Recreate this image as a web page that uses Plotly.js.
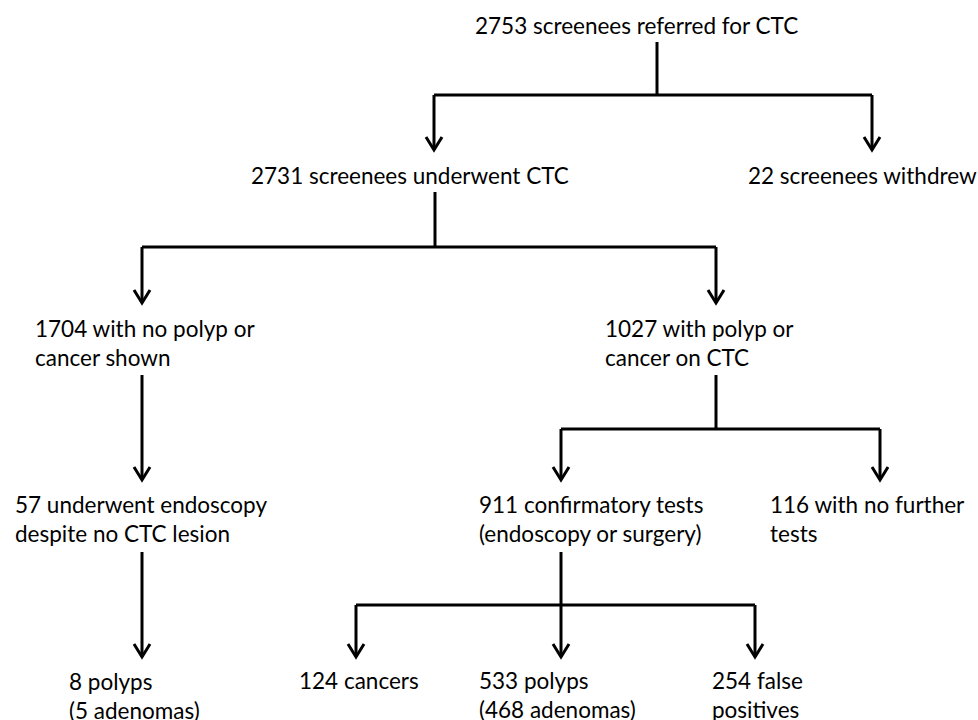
<!DOCTYPE html>
<html>
<head>
<meta charset="utf-8">
<script src="https://cdn.plot.ly/plotly-3.0.1.min.js"></script>
<style>html,body{margin:0;padding:0;background:#fff;}#chart{width:978px;height:720px;}</style>
</head>
<body>
<div id="chart"></div>
<script>
// Node texts (each node: list of lines), left x and baseline of first line (pixel space)
const nodeLines = [
  ["2753 screenees referred for CTC"],
  ["2731 screenees underwent CTC"],
  ["22 screenees withdrew"],
  ["1704 with no polyp or", "cancer shown"],
  ["1027 with polyp or", "cancer on CTC"],
  ["57 underwent endoscopy", "despite no CTC lesion"],
  ["911 confirmatory tests", "(endoscopy or surgery)"],
  ["116 with no further", "tests"],
  ["8 polyps", "(5 adenomas)"],
  ["124 cancers"],
  ["533 polyps", "(468 adenomas)"],
  ["254 false", "positives"]
];
const nodeLeft = [473, 249, 746, 33, 603, 13, 477, 768, 67, 297, 477, 710];
const nodeBase = [32, 182, 182, 335, 335, 511, 511, 511, 688, 687, 687, 687];

// Split connectors: stem from parent down to a horizontal bar, then arrows down to children
const stemX    = [657, 435, 716, 561];
const stemTop  = [42, 192, 375, 552];
const barY     = [95, 247, 429, 605];
const branchX  = [[434, 872], [142, 716], [561, 880], [356, 561, 755]];
const branchTip = [150, 303, 480, 657];

// Straight arrows: x, top, tip
const straightX   = [142, 142];
const straightTop = [375, 552];
const straightTip = [480, 657];

const LINE_SPACING = 29;
const traces = [];
const lineStyle = {color: '#000', width: 3};
function seg(xs, ys) {
  traces.push({x: xs, y: ys, mode: 'lines', line: lineStyle, hoverinfo: 'skip', showlegend: false, type: 'scatter'});
}
function head(x, tip) {
  traces.push({x: [x - 8, x, x + 8], y: [tip - 13, tip, tip - 13], mode: 'lines',
    line: {color: '#000', width: 3, shape: 'linear'}, hoverinfo: 'skip', showlegend: false, type: 'scatter'});
}
for (let i = 0; i < stemX.length; i++) {
  seg([stemX[i], stemX[i]], [stemTop[i], barY[i]]);
  const bx = branchX[i];
  seg([Math.min(...bx), Math.max(...bx)], [barY[i], barY[i]]);
  bx.forEach(x => { seg([x, x], [barY[i], branchTip[i] - 1]); head(x, branchTip[i]); });
}
for (let i = 0; i < straightX.length; i++) {
  seg([straightX[i], straightX[i]], [straightTop[i], straightTip[i] - 1]);
  head(straightX[i], straightTip[i]);
}

const annotations = [];
nodeLines.forEach((lines, i) => {
  lines.forEach((t, j) => {
    annotations.push({
      x: nodeLeft[i], y: nodeBase[i] + j * LINE_SPACING - 7,
      xref: 'x', yref: 'y', text: t, showarrow: false,
      xanchor: 'left', yanchor: 'middle', align: 'left',
      font: {family: 'Lato, "Open Sans", sans-serif', size: 22.5, color: '#000'}
    });
  });
});

const layout = {
  width: 978, height: 720,
  margin: {l: 0, r: 0, t: 0, b: 0},
  paper_bgcolor: '#fff', plot_bgcolor: '#fff',
  xaxis: {range: [0, 978], visible: false, fixedrange: true},
  yaxis: {range: [720, 0], visible: false, fixedrange: true},
  annotations: annotations,
  showlegend: false
};
Plotly.newPlot('chart', traces, layout, {displayModeBar: false, staticPlot: true});
</script>
</body>
</html>
